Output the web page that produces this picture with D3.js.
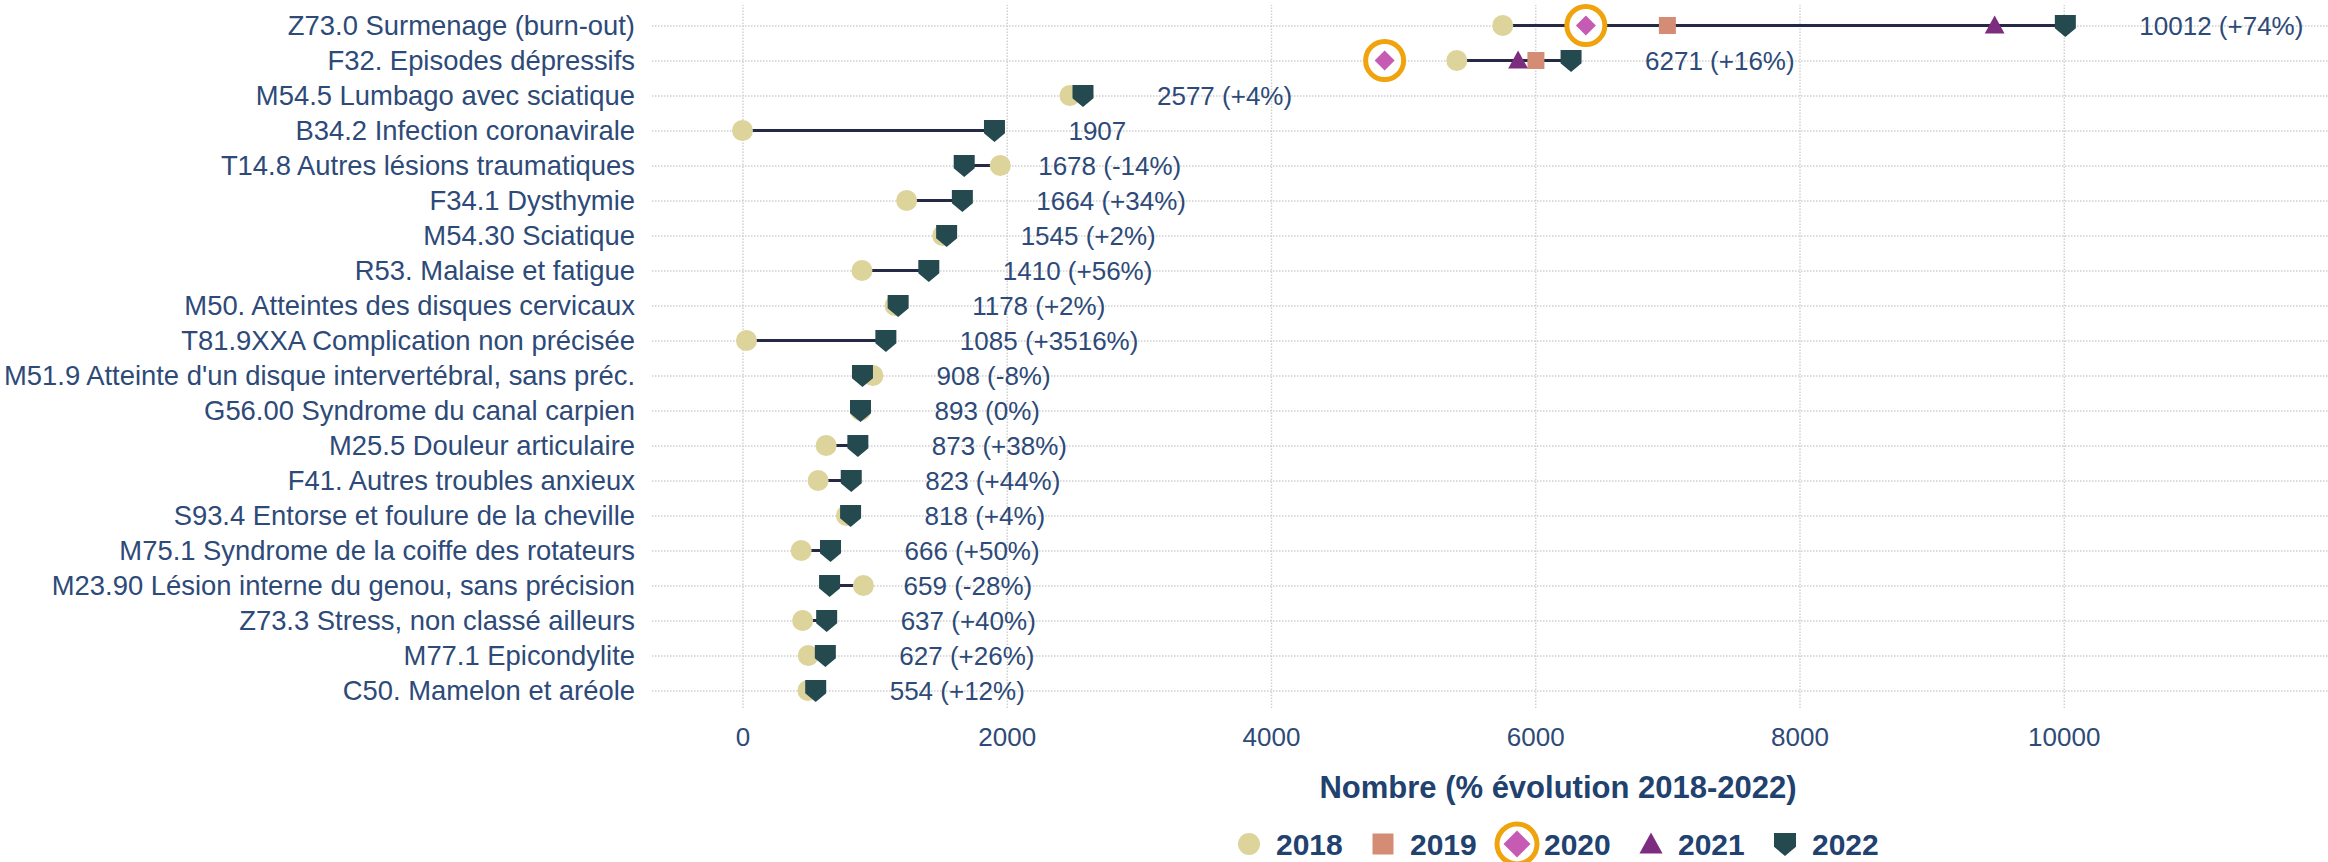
<!DOCTYPE html>
<html><head><meta charset="utf-8">
<script src="https://cdn.jsdelivr.net/npm/d3@7"></script>
<style>body{margin:0;background:#fff;} text{font-family:"Liberation Sans",Arial,sans-serif;}</style>
</head><body>
<svg id="c" width="2328" height="862"></svg>
<script>
const categories = [
  "Z73.0 Surmenage (burn-out)",
  "F32. Episodes dépressifs",
  "M54.5 Lumbago avec sciatique",
  "B34.2 Infection coronavirale",
  "T14.8 Autres lésions traumatiques",
  "F34.1 Dysthymie",
  "M54.30 Sciatique",
  "R53. Malaise et fatigue",
  "M50. Atteintes des disques cervicaux",
  "T81.9XXA Complication non précisée",
  "M51.9 Atteinte d'un disque intervertébral, sans préc.",
  "G56.00 Syndrome du canal carpien",
  "M25.5 Douleur articulaire",
  "F41. Autres troubles anxieux",
  "S93.4 Entorse et foulure de la cheville",
  "M75.1 Syndrome de la coiffe des rotateurs",
  "M23.90 Lésion interne du genou, sans précision",
  "Z73.3 Stress, non classé ailleurs",
  "M77.1 Epicondylite",
  "C50. Mamelon et aréole"
];
const v2018 = [5754, 5406, 2478, 0, 1951, 1242, 1515, 904, 1155, 30, 987, 893, 633, 572, 787, 444, 915, 455, 498, 495];
const v2019 = [7000, 6005, null, null, null, null, null, null, null, null, null, null, null, null, null, null, null, null, null, null];
const v2020 = [6383, 4860, null, null, null, null, null, null, null, null, null, null, null, null, null, null, null, null, null, null];
const v2021 = [9477, 5870, null, null, null, null, null, null, null, null, null, null, null, null, null, null, null, null, null, null];
const v2022 = [10012, 6271, 2577, 1907, 1678, 1664, 1545, 1410, 1178, 1085, 908, 893, 873, 823, 818, 666, 659, 637, 627, 554];
const evolution = [74, 16, 4, null, -14, 34, 2, 56, 2, 3516, -8, 0, 38, 44, 4, 50, -28, 40, 26, 12];
const xTicks = [0, 2000, 4000, 6000, 8000, 10000];
const years = ["2018", "2019", "2020", "2021", "2022"];
const axisTitle = "Nombre (% évolution 2018-2022)";

const colors = {"2018":"#DCD49A","2019":"#D48C74","2020":"#C65BB4","2021":"#7D2D80","2022":"#244A50"};
const textColor = "#2d4a78";
const titleColor = "#21416f";
const ringColor = "#F0A30C";
const lineColor = "#232946";
const gridColor = "#cfcfcf";

const svg = d3.select("#c");
const plotL = 652, plotR = 2328, plotT = 8, plotB = 708;
const x = d3.scaleLinear().domain([-685, 12000]).range([plotL, plotR]);
const y = d3.scalePoint().domain(categories).range([plotT, plotB]).padding(0.5);

// symbols
const pentagon = {draw(ctx, size){ const s = Math.sqrt(size)/2;
  ctx.moveTo(-s, -s); ctx.lineTo(s, -s); ctx.lineTo(s, s*0.25); ctx.lineTo(0, s*1.1); ctx.lineTo(-s, s*0.25); ctx.closePath(); }};
const diamond = {draw(ctx, size){ const s = Math.sqrt(size)/2; ctx.moveTo(0,-s); ctx.lineTo(s,0); ctx.lineTo(0,s); ctx.lineTo(-s,0); ctx.closePath(); }};
const triUp = {draw(ctx, size){ const h = Math.sqrt(size); ctx.moveTo(0,-0.55*h); ctx.lineTo(0.55*h,0.45*h); ctx.lineTo(-0.55*h,0.45*h); ctx.closePath(); }};
const symTypes = {"2018": d3.symbolCircle, "2019": d3.symbolSquare, "2020": diamond, "2021": triUp, "2022": pentagon};
const symSizes = {"2018": Math.PI*10.5*10.5, "2019": 17*17, "2020": 20*20, "2021": 18*18, "2022": 21*21};
const legSizes = {"2018": Math.PI*11*11, "2019": 21*21, "2020": 27*27, "2021": 21*21, "2022": 22*22};

// x axis with vertical grid
const xAxis = d3.axisBottom(x).tickValues(xTicks).tickFormat(d3.format("d")).tickSize(-(plotB - plotT + 3)).tickPadding(20);
const gx = svg.append("g").attr("transform", `translate(0,${plotB})`).call(xAxis);
gx.select(".domain").remove();
gx.selectAll(".tick line").attr("stroke", gridColor).attr("stroke-width", 1.4).attr("stroke-dasharray", "1.5,1.5");
gx.selectAll(".tick text").attr("fill", textColor).attr("font-size", 26).attr("font-family", "Liberation Sans, Arial, sans-serif");

// y axis with horizontal grid
const yAxis = d3.axisLeft(y).tickSize(-(plotR - plotL)).tickPadding(17);
const gy = svg.append("g").attr("transform", `translate(${plotL},0)`).call(yAxis);
gy.select(".domain").remove();
gy.selectAll(".tick line").attr("stroke", gridColor).attr("stroke-width", 1.4).attr("stroke-dasharray", "1.5,1.5");
gy.selectAll(".tick text").attr("fill", textColor).attr("font-size", 27.4).attr("font-family", "Liberation Sans, Arial, sans-serif");

// connecting lines 2018 -> 2022
const rows = categories.map((c, i) => ({c, i, v18: v2018[i], v22: v2022[i], ev: evolution[i]}));
svg.append("g").selectAll("line").data(rows).join("line")
  .attr("x1", d => x(d.v18)).attr("x2", d => x(d.v22))
  .attr("y1", d => y(d.c)).attr("y2", d => y(d.c))
  .attr("stroke", lineColor).attr("stroke-width", 3);

// markers
const series = {"2018": v2018, "2019": v2019, "2020": v2020, "2021": v2021, "2022": v2022};
years.forEach(yr => {
  const pts = categories.map((c, i) => ({c, v: series[yr][i]})).filter(d => d.v !== null);
  const g = svg.append("g");
  if (yr === "2020") {
    g.selectAll("circle").data(pts).join("circle")
      .attr("cx", d => x(d.v)).attr("cy", d => y(d.c)).attr("r", 19)
      .attr("fill", "#fff").attr("stroke", ringColor).attr("stroke-width", 5);
  }
  g.selectAll("path").data(pts).join("path")
    .attr("transform", d => `translate(${x(d.v)},${y(d.c)})`)
    .attr("d", d3.symbol().type(symTypes[yr]).size(symSizes[yr]))
    .attr("fill", colors[yr]);
});

// value labels
const fmtEv = e => e === null ? "" : ` (${e > 0 ? "+" : ""}${e}%)`;
svg.append("g").selectAll("text").data(rows).join("text")
  .attr("x", d => x(d.v22) + 74).attr("y", d => y(d.c)).attr("dy", "0.36em")
  .attr("fill", textColor).attr("font-size", 26)
  .text(d => `${d.v22}${fmtEv(d.ev)}`);

// axis title
svg.append("text").attr("x", 1558).attr("y", 798).attr("text-anchor", "middle")
  .attr("fill", titleColor).attr("font-size", 31).attr("font-weight", "bold").text(axisTitle);

// legend
const leg = svg.append("g").attr("transform", "translate(1249,844)");
const li = leg.selectAll("g").data(years).join("g").attr("transform", (d, i) => `translate(${i*134},0)`);
li.filter(d => d === "2020").append("circle").attr("r", 20).attr("fill", "#fff").attr("stroke", ringColor).attr("stroke-width", 5);
li.append("path").attr("d", d => d3.symbol().type(symTypes[d]).size(legSizes[d])()).attr("fill", d => colors[d]);
li.append("text").attr("x", 27).attr("dy", "0.35em").attr("fill", titleColor).attr("font-size", 30).attr("font-weight", "bold").text(d => d);
</script>
</body></html>
